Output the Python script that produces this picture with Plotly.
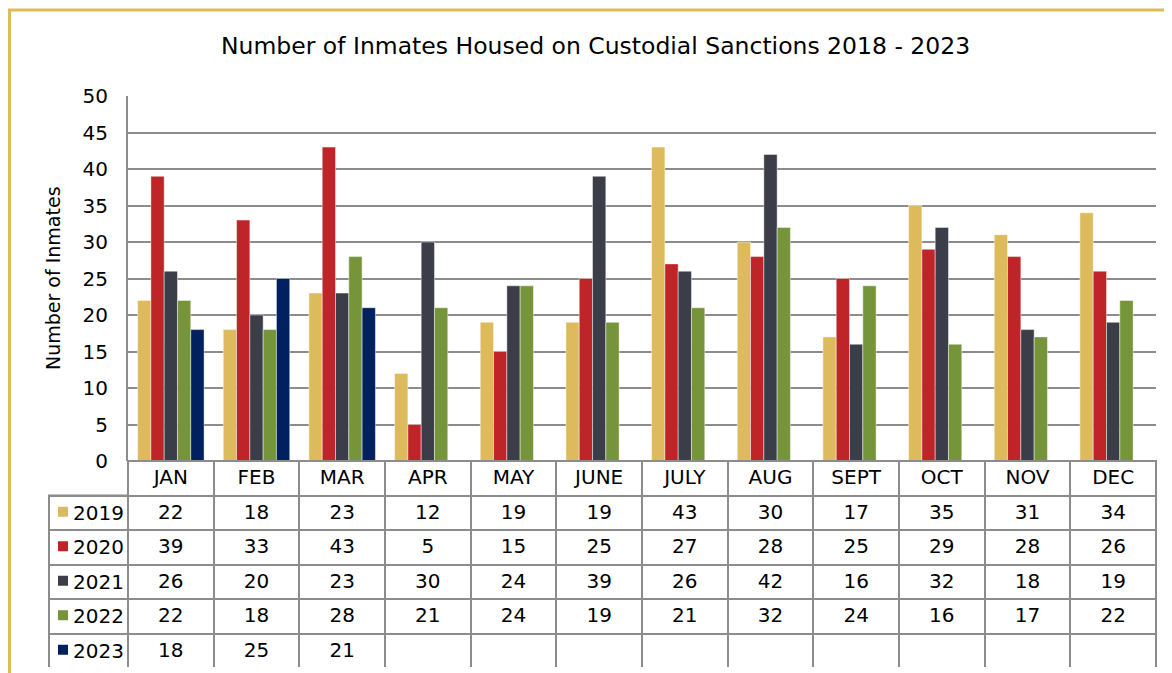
import plotly.graph_objects as go

W, H = 1172, 673
OFF = 8  # page body margin, shift everything back by this much

months = ["JAN", "FEB", "MAR", "APR", "MAY", "JUNE", "JULY", "AUG", "SEPT", "OCT", "NOV", "DEC"]
years = ["2019", "2020", "2021", "2022", "2023"]
colors = ["#DDBA5C", "#BE2428", "#3B3E49", "#76953B", "#00205F"]

v2019 = [22, 18, 23, 12, 19, 19, 43, 30, 17, 35, 31, 34]
v2020 = [39, 33, 43, 5, 15, 25, 27, 28, 25, 29, 28, 26]
v2021 = [26, 20, 23, 30, 24, 39, 26, 42, 16, 32, 18, 19]
v2022 = [22, 18, 28, 21, 24, 19, 21, 32, 24, 16, 17, 22]
v2023 = [18, 25, 21, None, None, None, None, None, None, None, None, None]
series = [v2019, v2020, v2021, v2022, v2023]

FONT = "DejaVu Sans"
GRID = "#8c8c8c"

# table geometry (pixels in the screenshot)
TAB_L, TAB_R = 49, 1156
PLOT_L = 128
TAB_TOP, TAB_BOT = 461, 668
ROW_H = (TAB_BOT - TAB_TOP) / 6


def px_x(p):
    return (p - OFF) / W


def px_y(p):
    return 1 - (p - OFF) / H


fig = go.Figure()

# bars
for year, vals, col in zip(years, series, colors):
    fig.add_trace(
        go.Bar(
            name=year,
            x=months,
            y=vals,
            marker=dict(color=col, line=dict(color="rgba(255,255,255,0.45)", width=1)),
            showlegend=False,
        )
    )

# data table under the chart
month_cols = []
for i in range(len(months)):
    month_cols.append(["" if s[i] is None else str(s[i]) for s in series])

fig.add_trace(
    go.Table(
        domain=dict(x=[px_x(TAB_L), px_x(TAB_R)], y=[px_y(TAB_BOT), px_y(TAB_TOP)]),
        columnwidth=[PLOT_L - TAB_L] + [(TAB_R - PLOT_L) / 12] * 12,
        header=dict(
            values=[""] + months,
            align="center",
            height=ROW_H,
            fill_color=["rgba(0,0,0,0)"] + ["white"] * 12,
            line=dict(color=["rgba(0,0,0,0)"] + [GRID] * 12, width=2),
            font=dict(family=FONT, size=20, color="black"),
        ),
        cells=dict(
            values=[[""] * len(years)] + month_cols,
            align="center",
            height=ROW_H,
            fill_color="white",
            line=dict(color=GRID, width=2),
            font=dict(family=FONT, size=20, color="black"),
        ),
    )
)

# legend keys in the first table column
annotations = []
shapes = [
    dict(
        type="rect", xref="paper", yref="paper",
        x0=px_x(OFF + 1.5), x1=1.05, y0=-0.05, y1=px_y(10),
        line=dict(color="#DDBA5C", width=3),
    ),
    # top edge of the legend column
    dict(
        type="line", xref="paper", yref="paper",
        x0=px_x(TAB_L - 1), x1=px_x(PLOT_L),
        y0=px_y(TAB_TOP + ROW_H), y1=px_y(TAB_TOP + ROW_H),
        line=dict(color=GRID, width=2),
    ),
]
for k, (year, col) in enumerate(zip(years, colors)):
    yc = TAB_TOP + ROW_H * (k + 1.5)
    shapes.append(
        dict(
            type="rect", xref="paper", yref="paper",
            x0=px_x(58), x1=px_x(68), y0=px_y(yc + 4), y1=px_y(yc - 6),
            line=dict(width=0), fillcolor=col,
        )
    )
    annotations.append(
        dict(
            text=year,
            xref="paper", yref="paper",
            x=px_x(71), y=px_y(yc),
            xanchor="left", yanchor="middle",
            showarrow=False,
            font=dict(family=FONT, size=20, color="black"),
        )
    )

annotations += [
    dict(
        text="Number of Inmates Housed on Custodial Sanctions 2018 - 2023",
        xref="paper", yref="paper",
        x=px_x(595), y=px_y(46),
        xanchor="center", yanchor="middle",
        showarrow=False,
        font=dict(family=FONT, size=23.5, color="black"),
    ),
    dict(
        text="Number of Inmates",
        xref="paper", yref="paper",
        x=px_x(53), y=px_y(278),
        xanchor="center", yanchor="middle",
        textangle=-90,
        showarrow=False,
        font=dict(family=FONT, size=19, color="black"),
    ),
]

fig.update_layout(
    width=W,
    height=H,
    margin=dict(l=0, r=0, t=0, b=0),
    paper_bgcolor="white",
    plot_bgcolor="white",
    barmode="group",
    bargap=0.224,
    bargroupgap=0,
    font=dict(family=FONT, color="black"),
    xaxis=dict(
        domain=[px_x(PLOT_L), px_x(TAB_R)],
        showticklabels=False,
        showgrid=False,
        zeroline=False,
        showline=False,
        automargin=False,
        fixedrange=True,
    ),
    yaxis=dict(
        domain=[px_y(TAB_TOP), px_y(96)],
        range=[0, 50],
        dtick=5,
        showgrid=True,
        gridcolor=GRID,
        gridwidth=2,
        zeroline=False,
        showline=True,
        linecolor=GRID,
        linewidth=2,
        ticks="outside",
        ticklen=14,
        tickcolor="rgba(0,0,0,0)",
        automargin=False,
        tickfont=dict(family=FONT, size=20, color="black"),
    ),
    annotations=annotations,
    shapes=shapes,
)

fig.write_html("out.html")
